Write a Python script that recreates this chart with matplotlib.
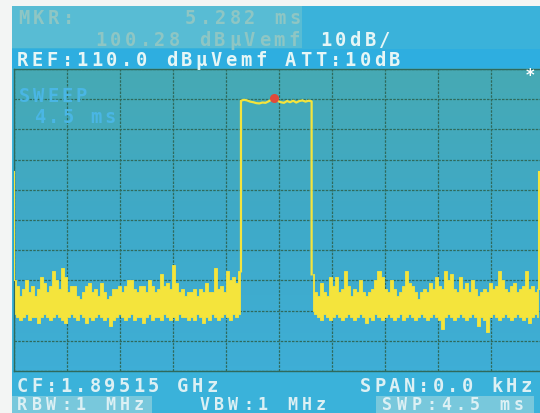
import numpy as np
import matplotlib
matplotlib.use("Agg")
import matplotlib.pyplot as plt
from matplotlib.patches import Rectangle
from matplotlib.colors import LinearSegmentedColormap

# --- DATA (zero-span time trace, dBuVemf) ---
sweep_ms = 4.5
ref_level = 110.0
db_per_div = 10

t_start, t_rise, t_fall, t_end = 0.0, 1.927, 2.527, 4.458
edge_level = 76.0            # trace level at the very first / last sample

noise_left_upper = [40, 38, 35, 37, 40, 36, 38, 35, 37, 41, 39, 36, 38, 43, 40, 37, 44, 41, 36, 38,
                    38, 35, 34, 36, 38, 39, 36, 37, 35, 39, 36, 34, 35, 37, 37, 38, 36, 38, 40, 40,
                    37, 36, 38, 38, 36, 40, 38, 36, 37, 42, 38, 39, 37, 45, 39, 36, 37, 35, 36, 36,
                    37, 35, 37, 36, 39, 36, 36, 44, 37, 38, 36, 43, 40, 41, 39, 43]
noise_left_lower = [29, 28, 27, 28, 29, 27, 28, 28, 26, 28, 29, 28, 27, 28, 29, 28, 27, 26, 28, 29,
                    28, 27, 29, 28, 26, 28, 27, 28, 29, 28, 27, 28, 25, 27, 28, 29, 28, 27, 28, 29,
                    27, 28, 28, 26, 28, 29, 27, 28, 28, 27, 29, 28, 27, 28, 27, 29, 28, 28, 27, 28,
                    27, 29, 28, 26, 28, 27, 29, 28, 27, 28, 29, 28, 27, 29, 28, 29]
noise_right_upper = [42, 36, 35, 39, 36, 35, 41, 38, 41, 36, 37, 43, 38, 35, 37, 36, 40, 36, 35, 36,
                     37, 40, 43, 41, 37, 36, 40, 37, 35, 36, 38, 43, 39, 38, 36, 34, 36, 37, 36, 39,
                     37, 41, 38, 37, 43, 40, 42, 37, 36, 41, 37, 39, 36, 40, 37, 35, 36, 37, 36, 39,
                     37, 38, 43, 40, 37, 36, 38, 39, 36, 37, 38, 43, 37, 38, 36, 37]
noise_right_lower = [30, 29, 28, 27, 29, 28, 27, 28, 29, 28, 27, 28, 29, 28, 27, 28, 29, 28, 26, 28,
                     27, 29, 28, 27, 28, 29, 28, 27, 28, 29, 27, 28, 29, 28, 27, 28, 29, 28, 27, 28,
                     29, 28, 27, 24, 28, 29, 28, 27, 28, 29, 28, 27, 28, 29, 28, 25, 28, 27, 23, 28,
                     29, 28, 27, 28, 29, 28, 27, 28, 29, 28, 27, 28, 26, 28, 29, 28]
burst_top = [99.5, 99.8, 99.6, 99.2, 99.0, 98.7, 98.6, 98.9, 98.8, 99.3, 99.9, 100.3,
             99.4, 99.0, 98.8, 99.4, 99.0, 99.5, 98.9, 99.4, 99.6, 99.2, 99.5, 99.3]

marker_t, marker_db = 2.208, 100.28

header_left = [("MKR:", 16, 19), ("5.282 ms", 183, 19), ("100.28 dB\u00b5Vemf", 93, 40)]
header_bright = [("10dB/", 318, 40), ("REF:110.0 dB\u00b5Vemf ATT:10dB", 15, 60)]
sweep_text = [("SWEEP", 18, 97), ("4.5 ms", 33, 118)]
footer = [("CF:1.89515 GHz", 15, 387), ("SPAN:0.0 kHz", 358, 387)]
footer_low = [("RBW:1 MHz", 15, 405), ("VBW:1 MHz", 197, 405), ("SWP:4.5 ms", 380, 405)]

# --- FIGURE ---
W, H = 540, 414
fig = plt.figure(figsize=(W / 100, H / 100), dpi=100)
fig.patch.set_facecolor("#3ab2da")


def box(x, y, w, h, color, z=0):
    # pixel box, measured from the top-left of the picture
    fig.add_artist(Rectangle((x / W, 1 - (y + h) / H), w / W, h / H,
                             transform=fig.transFigure, color=color, lw=0, zorder=z))


def mono(s, x, y, color, size=13.5, pitch=14.9):
    # fixed pitch text, one glyph per cell like the analyser's character generator
    for i, ch in enumerate(s):
        if ch != " ":
            fig.text((x + i * pitch + pitch / 2) / W, 1 - y / H, ch, ha="center", va="center",
                     color=color, fontsize=size, family="DejaVu Sans Mono", fontweight="bold",
                     zorder=5)


box(12, 7, 290, 42, "#58bcd4")          # marker read-out field
box(12, 50, 528, 19, "#2eaee0")         # REF row
box(12, 397, 140, 17, "#78c8dc")        # RBW field
box(376, 397, 158, 17, "#78c8dc")       # SWP field
box(0, 0, W, 7, "#f3f5f4", 1)           # paper around the screen
box(0, 0, 12, H, "#f3f5f4", 1)

ax = fig.add_axes([14 / W, (H - 372) / H, 530 / W, 302 / H])
ax.set_xlim(0, sweep_ms)
ax.set_ylim(ref_level - 10 * db_per_div, ref_level)

screen = LinearSegmentedColormap.from_list("screen", ["#3eaed6", "#3faac8", "#46a9b4"])
ax.imshow(np.linspace(0, 1, 64).reshape(-1, 1)[::-1], extent=[0, sweep_ms, 10, 110],
          aspect="auto", cmap=screen, zorder=0)

ax.set_xticks(np.linspace(0, sweep_ms, 11))
ax.set_yticks(np.arange(10, 111, db_per_div))
ax.tick_params(length=0, labelbottom=False, labelleft=False)
ax.grid(True, color="#2f6a5c", lw=0.9, ls=(0, (2, 1)))
for sp in ax.spines.values():
    sp.set_color("#2f6a5c")
    sp.set_linewidth(1.0)

yellow = "#f4e43c"
tl = np.linspace(t_start + 0.005, t_rise - 0.01, len(noise_left_upper))
tr = np.linspace(t_fall + 0.01, t_end - 0.005, len(noise_right_upper))
for t, lo, hi in [(tl, noise_left_lower, noise_left_upper), (tr, noise_right_lower, noise_right_upper)]:
    ax.fill_between(t, lo, hi, step="mid", color=yellow, lw=0.6, edgecolor=yellow, zorder=3)

tb = np.linspace(t_rise, t_fall, len(burst_top))
ax.plot([t_start, t_start], [edge_level, noise_left_upper[0]], color=yellow, lw=1.5, zorder=3)
ax.plot(np.r_[t_rise, tb, t_fall], np.r_[noise_left_upper[-1], burst_top, noise_right_upper[0]],
        color=yellow, lw=1.6, zorder=3)
ax.plot([t_end, t_end], [noise_right_upper[-1], edge_level], color=yellow, lw=1.5, zorder=3)
ax.plot([marker_t], [marker_db], "o", color="#e04a3a", ms=5.5, zorder=4)

# --- TEXT ---
for s, x, y in header_left:
    mono(s, x, y, "#8ec6c4")
for s, x, y in header_bright:
    mono(s, x, y, "#e6f6f6")
for s, x, y in sweep_text:
    mono(s, x, y, "#4ab6e4", pitch=14)
for s, x, y in footer:
    mono(s, x, y, "#dcf0f4", pitch=14.6)
for s, x, y in footer_low:
    mono(s, x, y, "#dcf0f4", size=12, pitch=14.6)
fig.text(530 / W, 1 - 76 / H, "*", color="white", fontsize=12, ha="center", va="center",
         fontweight="bold", zorder=5)

fig.savefig("out.png", dpi=100, facecolor=fig.get_facecolor())
